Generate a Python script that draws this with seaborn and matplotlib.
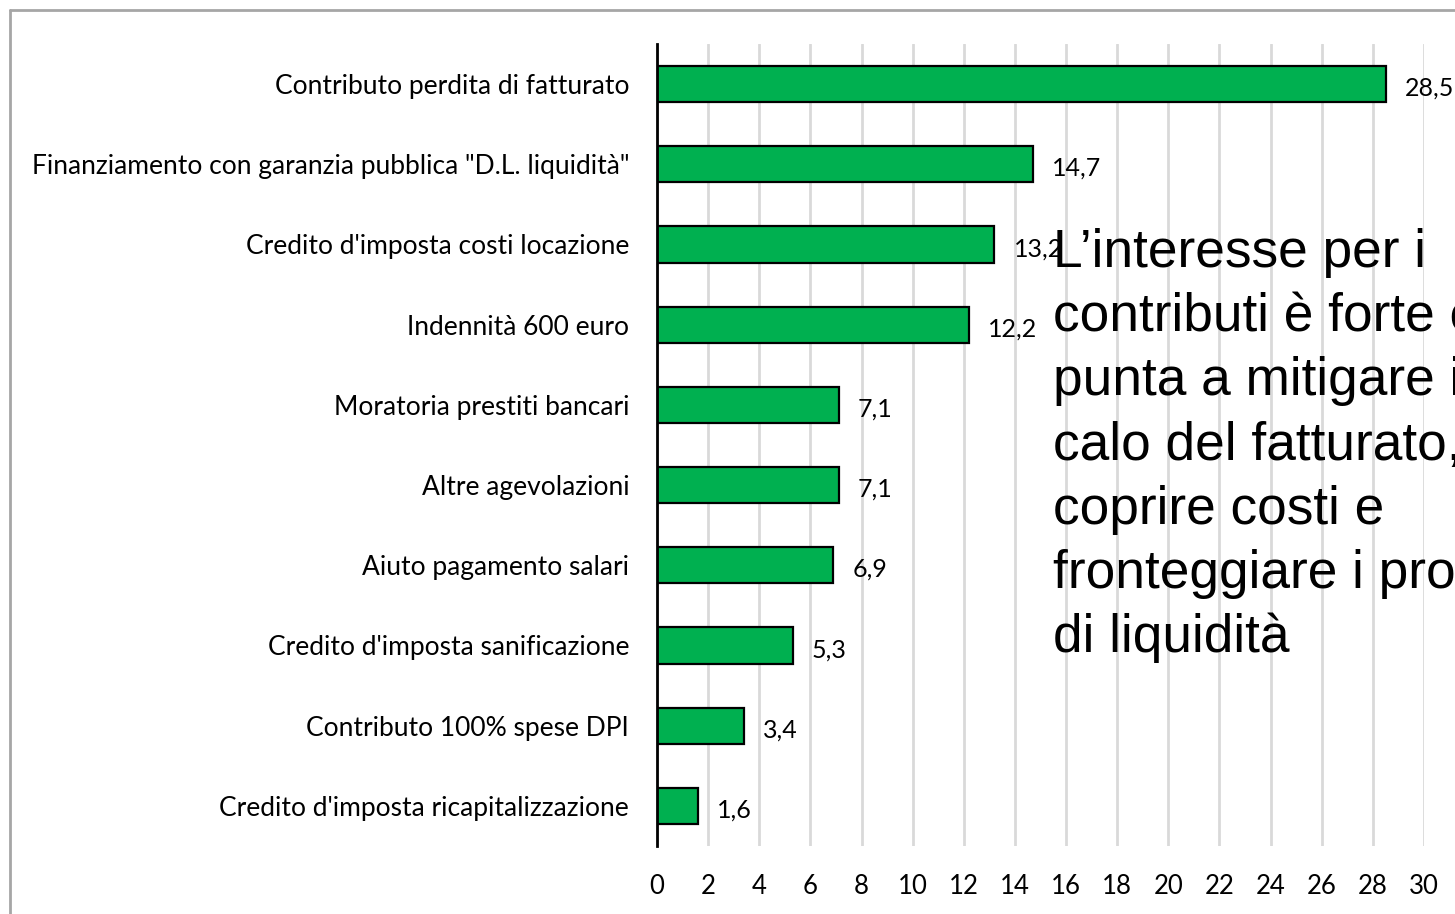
import matplotlib
matplotlib.use('Agg')
import matplotlib.pyplot as plt
from matplotlib.lines import Line2D
import seaborn as sns

# data
categories = [
    'Contributo perdita di fatturato',
    'Finanziamento con garanzia pubblica "D.L. liquidità"',
    "Credito d'imposta costi locazione",
    'Indennità 600 euro',
    'Moratoria prestiti bancari',
    'Altre agevolazioni',
    'Aiuto pagamento salari',
    "Credito d'imposta sanificazione",
    'Contributo 100% spese DPI',
    "Credito d'imposta ricapitalizzazione",
]
values = [28.5, 14.7, 13.2, 12.2, 7.1, 7.1, 6.9, 5.3, 3.4, 1.6]
x_ticks = list(range(0, 31, 2))
note_lines = [
    'L\u2019interesse per i',
    'contributi è forte e',
    'punta a mitigare il',
    'calo del fatturato,',
    'coprire costi e',
    'fronteggiare i problemi',
    'di liquidità',
]

sns.set_style('white')
plt.rcParams['font.family'] = ['Lato', 'DejaVu Sans']
plt.rcParams['text.color'] = 'black'
plt.rcParams['xtick.color'] = 'black'
plt.rcParams['ytick.color'] = 'black'

fig = plt.figure(figsize=(14.55, 9.14), dpi=100)
ax = fig.add_axes([657 / 1455, 1 - 846 / 914, 767 / 1455, 802 / 914])

sns.barplot(x=values, y=categories, orient='h', color='#00B050',
            saturation=1, edgecolor='black', linewidth=1.6, width=0.45, ax=ax)

ax.set_xlim(0, 30)
ax.set_xticks(x_ticks)
ax.set_xticklabels([str(t) for t in x_ticks], fontsize=18.5)
ax.set_xlabel('')
ax.set_ylabel('')
ax.tick_params(axis='x', length=0, pad=20)
ax.tick_params(axis='y', length=0, pad=20, labelsize=19)
ax.xaxis.grid(True, color='#D9D9D9', linewidth=2)
ax.set_axisbelow(True)
for side in ['top', 'right', 'bottom']:
    ax.spines[side].set_visible(False)
ax.spines['left'].set_color('black')
ax.spines['left'].set_linewidth(2)

# value labels with decimal comma
for i, v in enumerate(values):
    ax.annotate(f'{v:.1f}'.replace('.', ','), (v, i), xytext=(14, -3),
                textcoords='offset points', va='center', ha='left',
                fontsize=18, color='black')

# overlay note
for i, line in enumerate(note_lines):
    fig.text(1053 / 1455, 1 - (267 + i * 64.2) / 914, line, fontsize=38.3,
             family='Liberation Sans', color='black', va='baseline', ha='left')

# chart frame (only left and top visible)
fig.add_artist(Line2D([9.5 / 1455, 9.5 / 1455], [0, 1 - 9.5 / 914],
                      transform=fig.transFigure, color='#A6A6A6', linewidth=2))
fig.add_artist(Line2D([9.5 / 1455, 1], [1 - 9.5 / 914, 1 - 9.5 / 914],
                      transform=fig.transFigure, color='#A6A6A6', linewidth=2))

fig.savefig('out.png', dpi=100)
